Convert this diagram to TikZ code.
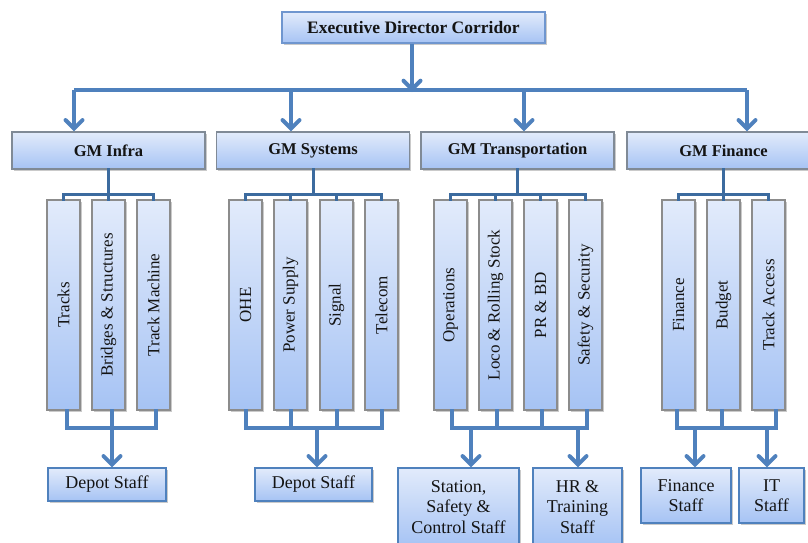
\documentclass[tikz,border=0pt]{standalone}
\usepackage{fontspec}
\setmainfont{Liberation Serif}
\usetikzlibrary{arrows.meta,shadows}
\definecolor{lnblue}{HTML}{4F81BD}
\definecolor{lndark}{HTML}{3C6B9F}
\definecolor{boxtop}{HTML}{E2EBFB}
\definecolor{boxbot}{HTML}{A6C3F4}
\definecolor{bordblue}{HTML}{6F96CF}
\definecolor{bordgray}{HTML}{8C8C8C}
\definecolor{txt}{HTML}{141414}
\tikzset{
  box/.style={draw=bordblue, line width=1.2pt, top color=boxtop, bottom color=boxbot,
    inner sep=0pt, align=center, text=txt,
    drop shadow={shadow xshift=1.5pt, shadow yshift=-2pt, opacity=0.35, fill=black!60}},
  topbox/.style={box, minimum width=263pt, minimum height=31pt, font=\fontsize{17.5}{19}\selectfont\bfseries},
  gmbox/.style={box, draw=bordgray!80!lnblue, minimum width=193pt, minimum height=37pt, font=\fontsize{16.5}{18}\selectfont\bfseries},
  subbox/.style={box, draw=bordgray, minimum width=33pt, minimum height=210pt, font=\fontsize{17}{18}\selectfont},
  staffbox/.style={box, draw=lnblue, font=\fontsize{18}{20.5}\selectfont},
  mainline/.style={draw=lnblue, line width=4pt},
  subline/.style={draw=lndark, line width=3pt, line cap=rect},
  botline/.style={draw=lnblue, line width=4pt, line cap=rect},
  arr/.style={draw=lnblue, line width=4pt, -{Straight Barb[length=8.5pt,width=17pt,line cap=round]}},
}
\begin{document}
\begin{tikzpicture}[x=1pt,y=-1pt]
\useasboundingbox (0,0) rectangle (808,542);
\begin{scope}
\clip (0,0) rectangle (808,542);
% top
\node[topbox] (ed) at (413.5,27.5) {Executive Director Corridor};
% GMs
\node[gmbox] (gm1) at (108.5,150.5) {GM Infra};
\node[gmbox] (gm2) at (313,150.5) {GM Systems};
\node[gmbox] (gm3) at (517.5,150.5) {GM Transportation};
\node[gmbox] (gm4) at (723.5,150.5) {GM Finance};
% sub boxes
\node[subbox] (s11) at (63.5,305) {\rotatebox{90}{Tracks}};
\node[subbox] (s12) at (108.5,305) {\rotatebox{90}{Bridges \& Structures}};
\node[subbox] (s13) at (153.5,305) {\rotatebox{90}{Track Machine}};
\node[subbox] (s21) at (245.5,305) {\rotatebox{90}{OHE}};
\node[subbox] (s22) at (290.5,305) {\rotatebox{90}{Power Supply}};
\node[subbox] (s23) at (336.5,305) {\rotatebox{90}{Signal}};
\node[subbox] (s24) at (381.5,305) {\rotatebox{90}{Telecom}};
\node[subbox] (s31) at (450.5,305) {\rotatebox{90}{Operations}};
\node[subbox] (s32) at (495.5,305) {\rotatebox{90}{Loco \& Rolling Stock}};
\node[subbox] (s33) at (540.5,305) {\rotatebox{90}{PR \& BD}};
\node[subbox] (s34) at (585.5,305) {\rotatebox{90}{Safety \& Security}};
\node[subbox] (s41) at (678.5,305) {\rotatebox{90}{Finance}};
\node[subbox] (s42) at (723.5,305) {\rotatebox{90}{Budget}};
\node[subbox] (s43) at (768.5,305) {\rotatebox{90}{Track Access}};
% staff boxes
\node[staffbox, minimum width=118pt, minimum height=33pt] (d1) at (107,484.5) {Depot Staff};
\node[staffbox, minimum width=117pt, minimum height=33pt] (d2) at (313.5,484.5) {Depot Staff};
\node[staffbox, minimum width=121pt, minimum height=78pt] (d3) at (458.5,507) {Station,\\Safety \&\\Control Staff};
\node[staffbox, minimum width=89pt, minimum height=78pt] (d4) at (577.5,507) {HR \&\\Training\\Staff};
\node[staffbox, minimum width=90pt, minimum height=55pt] (d5) at (686,495.5) {Finance\\Staff};
\node[staffbox, minimum width=65pt, minimum height=55pt] (d6) at (771.5,495.5) {IT\\Staff};

% top-level connectors
\coordinate (hb) at (412,90);
\coordinate (hl) at (74,90);
\coordinate (hr) at (747,90);
\coordinate (h2) at (291,90);
\coordinate (h3) at (524,90);
\draw[mainline] (hl) -- (hr);
\draw[arr] (ed.south -| hb) -- ([yshift=-2pt]hb);
\draw[arr] (hl) -- (hl |- gm1.north);
\draw[arr] (h2) -- (h2 |- gm2.north);
\draw[arr] (h3) -- (h3 |- gm3.north);
\draw[arr] (hr) -- (hr |- gm4.north);

% GM -> sub bars
\coordinate (tb) at (0,194);
\draw[subline] (gm1.south) -- (gm1.south |- tb);
\draw[subline] (s11.north) -- (s11.north |- tb) -- (s13.north |- tb) -- (s13.north);
\draw[subline] (s12.north) -- (s12.north |- tb);
\draw[subline] (gm2.south) -- (gm2.south |- tb);
\draw[subline] (s21.north) -- (s21.north |- tb) -- (s24.north |- tb) -- (s24.north);
\draw[subline] (s22.north) -- (s22.north |- tb);
\draw[subline] (s23.north) -- (s23.north |- tb);
\draw[subline] (gm3.south) -- (gm3.south |- tb);
\draw[subline] (s31.north) -- (s31.north |- tb) -- (s34.north |- tb) -- (s34.north);
\draw[subline] (s32.north) -- (s32.north |- tb);
\draw[subline] (s33.north) -- (s33.north |- tb);
\draw[subline] (gm4.south) -- (gm4.south |- tb);
\draw[subline] (s41.north) -- (s41.north |- tb) -- (s43.north |- tb) -- (s43.north);
\draw[subline] (s42.north) -- (s42.north |- tb);

% sub -> staff
\coordinate (bb) at (0,428);
\draw[botline] ([xshift=3pt]s11.south) -- ([xshift=3pt]s11.south |- bb) -- ([xshift=2pt]s13.south |- bb) -- ([xshift=2pt]s13.south);
\draw[botline] ([xshift=3pt]s12.south) -- ([xshift=3pt]s12.south |- bb);
\coordinate (a1) at (112,428);
\draw[arr] (a1) -- (a1 |- d1.north);

\draw[botline] (s21.south) -- (s21.south |- bb) -- (s24.south |- bb) -- (s24.south);
\draw[botline] (s22.south) -- (s22.south |- bb);
\draw[botline] (s23.south) -- (s23.south |- bb);
\coordinate (a2) at (317,428);
\draw[arr] (a2) -- (a2 |- d2.north);

\draw[botline] ([xshift=1.5pt]s31.south) -- ([xshift=1.5pt]s31.south |- bb) -- ([xshift=1.5pt]s34.south |- bb) -- ([xshift=1.5pt]s34.south);
\draw[botline] ([xshift=1.5pt]s32.south) -- ([xshift=1.5pt]s32.south |- bb);
\draw[botline] ([xshift=1.5pt]s33.south) -- ([xshift=1.5pt]s33.south |- bb);
\coordinate (a3) at (471,428);
\coordinate (a4) at (578,428);
\draw[arr] (a3) -- (a3 |- d3.north);
\draw[arr] (a4) -- (a4 |- d4.north);

\draw[botline] ([xshift=-1.5pt]s41.south) -- ([xshift=-1.5pt]s41.south |- bb) -- ([xshift=7.5pt]s43.south |- bb) -- ([xshift=7.5pt]s43.south);
\draw[botline] ([xshift=-1.5pt]s42.south) -- ([xshift=-1.5pt]s42.south |- bb);
\coordinate (a5) at (695,428);
\coordinate (a6) at (767,428);
\draw[arr] (a5) -- (a5 |- d5.north);
\draw[arr] (a6) -- (a6 |- d6.north);
\end{scope}
\end{tikzpicture}
\end{document}
